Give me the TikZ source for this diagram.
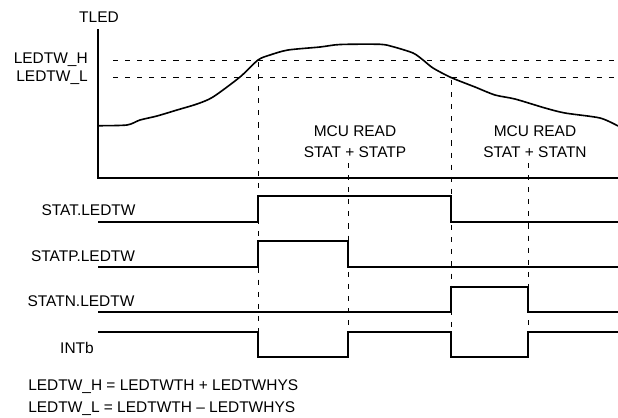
\documentclass[tikz,border=0pt]{standalone}
\usepackage{fontspec}
\setmainfont{Liberation Sans}
\usetikzlibrary{positioning}

\tikzset{
  sigline/.style={line width=1.45pt},
  guide/.style={line width=0.55pt, dash pattern=on 3.6pt off 5pt},
  lbl/.style={font=\fontsize{11}{13}\selectfont, inner sep=0pt}
}

\begin{document}
\begin{tikzpicture}[x=0.025cm, y=-0.025cm]
\useasboundingbox (0,0) rectangle (618,417);

% axes of the TLED graph
\draw[line width=1.45pt] (98,29) -- (98,178) -- (618,178);
\node[lbl, anchor=base] (tled) at (99,22.7) {TLED};
\node[lbl, anchor=base east] (ledh) at (88,63.5) {LEDTW\_H};
\node[lbl, anchor=base east] (ledl) at (88,81.7) {LEDTW\_L};

% thresholds
\draw[guide] (113,60) -- (618,60);
\draw[guide] (113,77.5) -- (618,77.5);

% the temperature
\draw[line width=1.15pt] plot[smooth, tension=0.45] coordinates {
  (98,125.7) (127,125) (140,120) (157,116) (177,110) (197,104) (213,97)
  (240,77) (258,60) (270,55) (288,50) (320,47) (340,44.5) (380,44.3)
  (393,46.7) (413,53) (423,60) (433,68) (451,77.5) (475,87) (495,95)
  (515,99) (545,108) (565,113) (600,118) (618,126)};

% read windows
\node[lbl, anchor=base] (readp) at (355,136) {MCU READ};
\node[lbl, anchor=base] (statp) at (355,157.3) {STAT + STATP};
\node[lbl, anchor=base] (readn) at (535,136) {MCU READ};
\node[lbl, anchor=base] (statn) at (535,157.3) {STAT + STATN};

% time marks
\draw[guide] (258,62) -- (258,332);
\draw[guide] (348,163) -- (348,332);
\draw[guide] (451,80) -- (451,332);
\draw[guide] (528,163) -- (528,332);

% STAT.LEDTW
\node[lbl, anchor=base] (stat) at (88.5,215) {STAT.LEDTW};
\draw[sigline] (98,221.7) -- (258,221.7) -- (258,196) -- (451,196) -- (451,221.7) -- (618,221.7);

% STATP.LEDTW
\node[lbl, anchor=base] (statpw) at (83,261.7) {STATP.LEDTW};
\draw[sigline] (98,267) -- (258,267) -- (258,241) -- (348,241) -- (348,267) -- (618,267);

% STATN.LEDTW
\node[lbl, anchor=base] (statnw) at (81,306.7) {STATN.LEDTW};
\draw[sigline] (98,312) -- (451,312) -- (451,287) -- (528,287) -- (528,312) -- (618,312);

% INTb
\node[lbl, anchor=base] (intb) at (77,353) {INTb};
\draw[sigline] (98,332) -- (258,332) -- (258,357) -- (348,357) -- (348,332) -- (451,332)
  -- (451,357) -- (528,357) -- (528,332) -- (618,332);

% legend
\node[lbl, anchor=base west] (eqh) at (28,390.7) {LEDTW\_H = LEDTWTH + LEDTWHYS};
\node[lbl, anchor=base west] (eql) at (28,412.3) {LEDTW\_L = LEDTWTH -- LEDTWHYS};

\end{tikzpicture}
\end{document}
